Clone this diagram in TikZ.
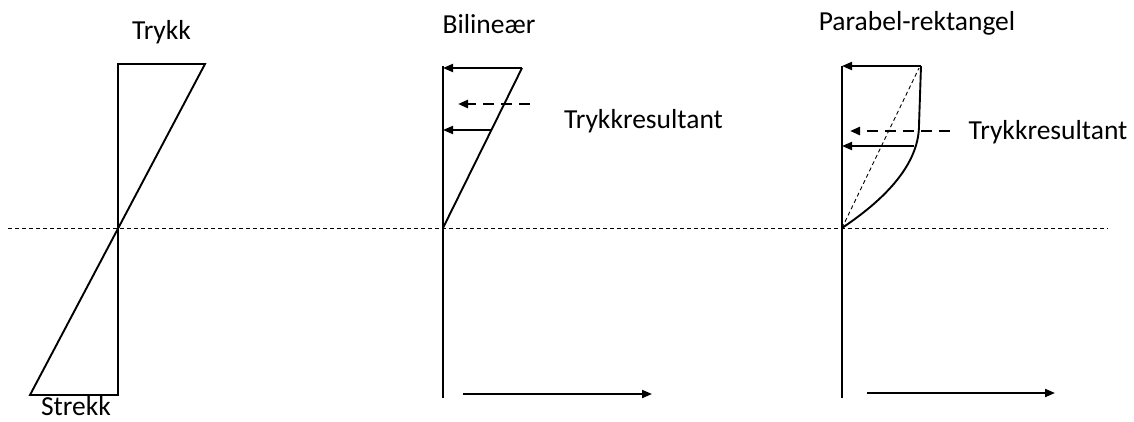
\documentclass[tikz,border=0pt]{standalone}
\usepackage{fontspec}
\setmainfont{Carlito}
\usepackage{tikz}
\usetikzlibrary{arrows.meta}

\begin{document}
\begin{tikzpicture}[x=1pt,y=-1pt,line width=1.9pt,
    >={Triangle[length=10pt,width=8pt]},
    lbl/.style={font=\fontsize{27.5}{32}\selectfont,inner sep=0pt},
    nullinje/.style={line width=0.9pt,dash pattern=on 4pt off 3pt},
    resultant/.style={->,line width=2.8pt,dash pattern=on 11pt off 7pt}]
  \useasboundingbox (0,0) rectangle (1134,421);
  % nøytralakse
  \coordinate (na1) at (8,228);
  \coordinate (na2) at (1108,228);
  \draw[nullinje] (na1) -- (na2);

  % lineær tøyning
  \coordinate (t1) at (118,64);
  \coordinate (b1) at (118,395);
  \coordinate (tr1) at (205,64);
  \coordinate (bl1) at (30,395);
  \draw (tr1) -- (t1) -- (b1) -- (bl1) -- cycle;
  \node[lbl] (trykk) at (161.5,32) {Trykk};
  \node[lbl] (strekk) at (76,406) {Strekk};

  % bilineær
  \coordinate (t2) at (443,66);
  \coordinate (b2) at (443,398);
  \coordinate (o2) at (443,228);
  \coordinate (tr2) at (522,68);
  \coordinate (tl2) at (443,68);
  \coordinate (m2) at (492,130);
  \coordinate (ml2) at (443,130);
  \coordinate (r2a) at (530,104);
  \coordinate (r2b) at (458,104);
  \coordinate (x2a) at (463,394);
  \coordinate (x2b) at (652,394);
  \draw (t2) -- (b2);
  \draw[->] (tr2) -- (tl2);
  \draw (tr2) -- (o2);
  \draw[->] (m2) -- (ml2);
  \draw[resultant] (r2a) -- (r2b);
  \draw[->] (x2a) -- (x2b);
  \node[lbl] (bilin) at (489,24) {Bilineær};
  \node[lbl] (res2) at (643.5,121) {Trykkresultant};

  % parabel-rektangel
  \coordinate (t3) at (842,66);
  \coordinate (b3) at (842,398);
  \coordinate (o3) at (842,228);
  \coordinate (tr3) at (921,66);
  \coordinate (k3) at (919,125);
  \coordinate (m3) at (914,146);
  \coordinate (ml3) at (842,146);
  \coordinate (r3a) at (950,131);
  \coordinate (r3b) at (850,131);
  \coordinate (x3a) at (867,393);
  \coordinate (x3b) at (1055,393);
  \draw (t3) -- (b3);
  \draw[->] (tr3) -- (t3);
  \draw (tr3) -- (k3) .. controls (919,159.3) and (893.3,193.7) .. (o3);
  \draw[nullinje] (o3) -- (919,68);
  \draw[->] (m3) -- (ml3);
  \draw[resultant] (r3a) -- (r3b);
  \draw[->] (x3a) -- (x3b);
  \node[lbl] (parab) at (917,23.5) {Parabel-rektangel};
  \node[lbl] (res3) at (1048,132) {Trykkresultant};
\end{tikzpicture}
\end{document}
